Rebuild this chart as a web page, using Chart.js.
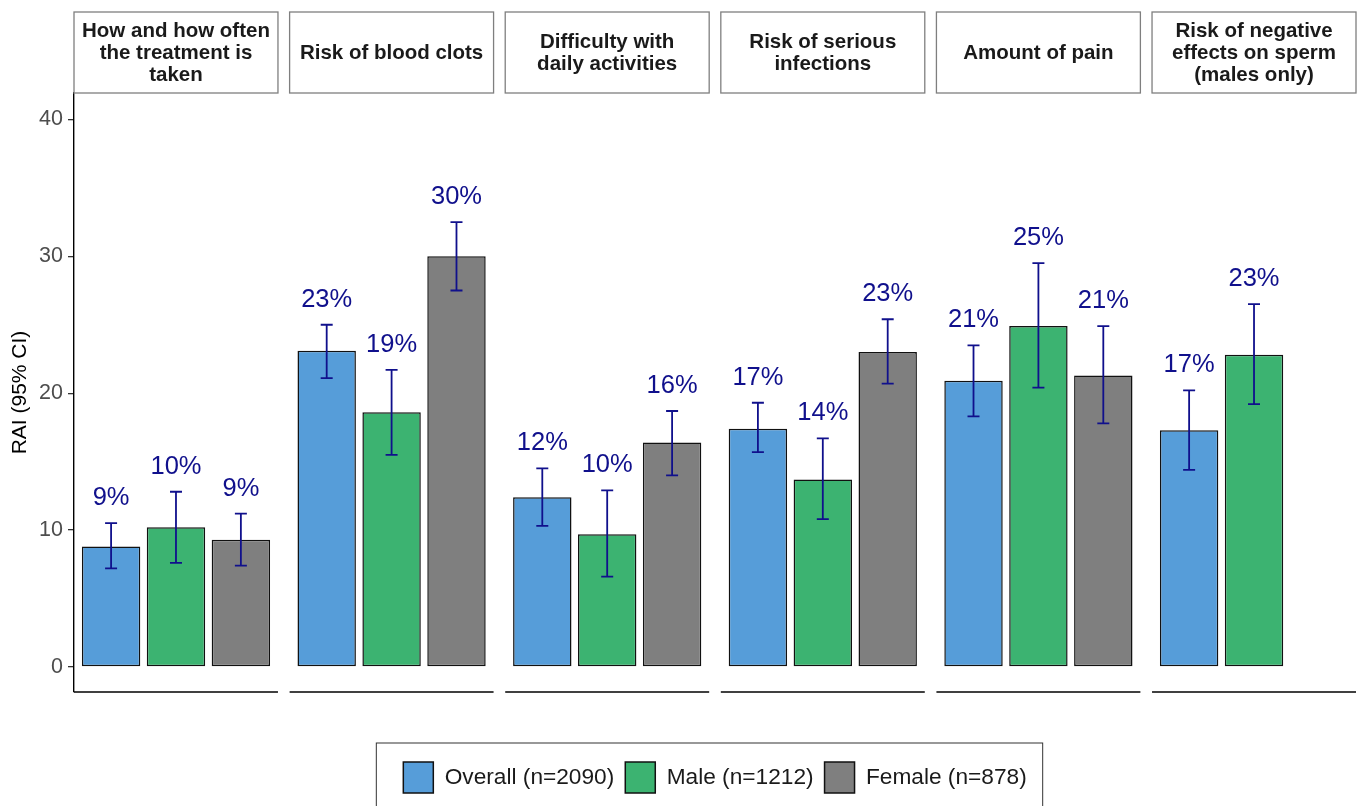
<!DOCTYPE html>
<html>
<head>
<meta charset="utf-8">
<script src="https://cdn.jsdelivr.net/npm/chart.js@4.4.1/dist/chart.umd.min.js"></script>
<style>
  html, body { margin: 0; padding: 0; background: #fff; }
  #wrap { width: 1357px; height: 806px; }
</style>
</head>
<body>
<div id="wrap"><canvas id="raiChart" width="1357" height="806"></canvas></div>
<script>
// facet headers (one array of lines per panel)
var attributes = [
  ['How and how often', 'the treatment is', 'taken'],
  ['Risk of blood clots'],
  ['Difficulty with', 'daily activities'],
  ['Risk of serious', 'infections'],
  ['Amount of pain'],
  ['Risk of negative', 'effects on sperm', '(males only)']
];

var overallRai  = [8.8, 23.1, 12.4, 17.4, 20.9, 17.3];
var overallLow  = [7.2, 21.1, 10.3, 15.7, 18.3, 14.4];
var overallHigh = [10.5, 25.0, 14.5, 19.3, 23.5, 20.2];

var maleRai  = [10.2, 18.6, 9.7, 13.7, 24.9, 22.8];
var maleLow  = [7.6, 15.5, 6.6, 10.8, 20.4, 19.2];
var maleHigh = [12.8, 21.7, 12.9, 16.7, 29.5, 26.5];

var femaleRai  = [9.3, 30.0, 16.4, 23.0, 21.3, null];
var femaleLow  = [7.4, 27.5, 14.0, 20.7, 17.8, null];
var femaleHigh = [11.2, 32.5, 18.7, 25.4, 24.9, null];

var yTicks = [0, 10, 20, 30, 40];

var FONT = "'Liberation Sans', Arial, Helvetica, sans-serif";
var CI_COLOR = '#10108c';
var HALF_PANEL = 0.473;

var ciBounds = [[overallLow, overallHigh], [maleLow, maleHigh], [femaleLow, femaleHigh]];

function toPoints(arr) {
  return arr.map(function (v, i) { return { x: i, y: v }; });
}

// error bars, % labels, facet strips, panel axis lines, legend frame
var facetPlugin = {
  id: 'facets',
  afterDatasetsDraw: function (chart) {
    var ctx = chart.ctx;
    var ys = chart.scales.y;
    ctx.save();
    chart.data.datasets.forEach(function (ds, d) {
      var meta = chart.getDatasetMeta(d);
      meta.data.forEach(function (bar, i) {
        var lo = ciBounds[d][0][i], hi = ciBounds[d][1][i];
        if (lo == null || ds.data[i].y == null) return;
        var yLo = ys.getPixelForValue(lo);
        var yHi = ys.getPixelForValue(hi);
        ctx.strokeStyle = CI_COLOR;
        ctx.lineWidth = 1.8;
        ctx.beginPath();
        ctx.moveTo(bar.x, yLo); ctx.lineTo(bar.x, yHi);
        ctx.moveTo(bar.x - 6, yLo); ctx.lineTo(bar.x + 6, yLo);
        ctx.moveTo(bar.x - 6, yHi); ctx.lineTo(bar.x + 6, yHi);
        ctx.stroke();
        ctx.fillStyle = CI_COLOR;
        ctx.font = '25.5px ' + FONT;
        ctx.textAlign = 'center';
        ctx.textBaseline = 'alphabetic';
        ctx.fillText(Math.round(ds.data[i].y) + '%', bar.x, yHi - 18);
      });
    });
    ctx.restore();
  },
  afterDraw: function (chart) {
    var ctx = chart.ctx;
    var xs = chart.scales.x;
    var area = chart.chartArea;
    ctx.save();
    attributes.forEach(function (lines, i) {
      var left = xs.getPixelForValue(i - HALF_PANEL);
      var right = xs.getPixelForValue(i + HALF_PANEL);
      // strip
      ctx.fillStyle = '#fff';
      ctx.fillRect(left, 12, right - left, area.top - 12);
      ctx.strokeStyle = '#7f7f7f';
      ctx.lineWidth = 1.3;
      ctx.strokeRect(left, 12, right - left, area.top - 12);
      ctx.fillStyle = '#1a1a1a';
      ctx.font = 'bold 20.5px ' + FONT;
      ctx.textAlign = 'center';
      ctx.textBaseline = 'middle';
      var mid = (12 + area.top) / 2 + 1;
      lines.forEach(function (t, k) {
        ctx.fillText(t, (left + right) / 2, mid + (k - (lines.length - 1) / 2) * 22);
      });
      // bottom axis line of the panel
      ctx.strokeStyle = '#000';
      ctx.lineWidth = 1.4;
      ctx.beginPath();
      ctx.moveTo(left, area.bottom);
      ctx.lineTo(right, area.bottom);
      ctx.stroke();
    });
    // legend frame
    var hb = chart.legend.legendHitBoxes;
    if (hb && hb.length) {
      var last = hb[hb.length - 1];
      var lx = hb[0].left - 27;
      var rx = last.left + last.width + 16;
      var ty = hb[0].top - 19;
      ctx.strokeStyle = '#333';
      ctx.lineWidth = 1;
      ctx.strokeRect(lx, ty, rx - lx, chart.height - ty + 10);
    }
    ctx.restore();
  }
};

var ctx = document.getElementById('raiChart').getContext('2d');
new Chart(ctx, {
  type: 'bar',
  data: {
    datasets: [
      { label: 'Overall (n=2090)', data: toPoints(overallRai), backgroundColor: '#569dd9' },
      { label: 'Male (n=1212)', data: toPoints(maleRai), backgroundColor: '#3cb371' },
      { label: 'Female (n=878)', data: toPoints(femaleRai), backgroundColor: '#7f7f7f' }
    ]
  },
  options: {
    responsive: false,
    animation: false,
    categoryPercentage: 0.903,
    barPercentage: 0.9,
    datasets: {
      bar: { borderColor: '#111', borderWidth: 1.5, borderSkipped: false }
    },
    layout: { padding: { top: 93, right: 1, bottom: 3, left: 0 } },
    plugins: {
      legend: {
        position: 'bottom',
        fullSize: false,
        labels: {
          boxWidth: 30,
          boxHeight: 31,
          padding: 11,
          color: '#1a1a1a',
          font: { size: 22.7, family: FONT }
        }
      },
      tooltip: { enabled: false }
    },
    scales: {
      x: {
        type: 'linear',
        offset: false,
        min: -HALF_PANEL,
        max: attributes.length - 1 + HALF_PANEL,
        afterBuildTicks: function (scale) {
          scale.ticks = attributes.map(function (a, i) { return { value: i }; });
        },
        grid: { display: false },
        border: { display: false },
        ticks: { display: false },
        afterFit: function (scale) { scale.height = 59; }
      },
      y: {
        min: -1.83,
        max: 41.93,
        afterBuildTicks: function (scale) {
          scale.ticks = yTicks.map(function (v) { return { value: v }; });
        },
        afterFit: function (scale) { scale.width = 74; },
        border: { display: true, color: '#000', width: 1.4 },
        grid: { drawOnChartArea: false, drawTicks: true, tickLength: 6, color: '#333', lineWidth: 1.3 },
        ticks: { color: '#4d4d4d', padding: 5, font: { size: 21.5, family: FONT } },
        title: {
          display: true,
          text: 'RAI (95% CI)',
          color: '#000',
          padding: { top: 8, bottom: 0 },
          font: { size: 21, family: FONT }
        }
      }
    }
  },
  plugins: [facetPlugin]
});
</script>
</body>
</html>
